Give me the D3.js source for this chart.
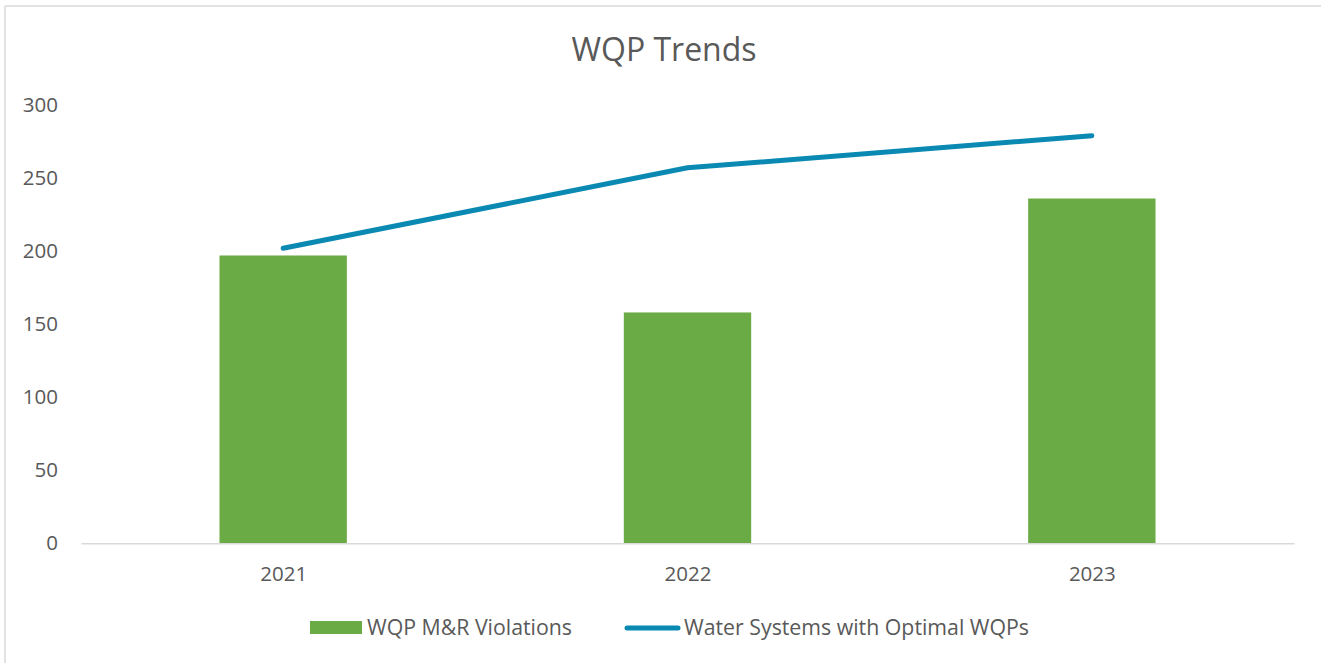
<!DOCTYPE html>
<html>
<head>
<meta charset="utf-8">
<script src="https://cdn.jsdelivr.net/npm/d3@7"></script>
<style>
  html, body { margin: 0; padding: 0; background: #fff; }
  svg { display: block; }
  text { font-family: "Open Sans", Lato, sans-serif; fill: #595959; }
</style>
</head>
<body>
<svg id="chart" width="1321" height="663"></svg>
<script>
const categories = ["2021", "2022", "2023"];
const violations = [197, 158, 236];
const optimalSystems = [202, 257, 279];
const yTicks = [0, 50, 100, 150, 200, 250, 300];
const seriesNames = ["WQP M&R Violations", "Water Systems with Optimal WQPs"];

const FONT = "'Open Sans', Lato, sans-serif";
const svg = d3.select("#chart");
const W = 1321, H = 663;
const margin = { left: 81, right: 27, top: 105, bottom: 120 };
const plotRight = W - margin.right;
const plotBottom = 543.3;

// frame (top and left edges visible)
svg.append("line").attr("x1", 5).attr("x2", W).attr("y1", 6).attr("y2", 6)
  .attr("stroke", "#d9d9d9").attr("stroke-width", 1.5);
svg.append("line").attr("x1", 5).attr("x2", 5).attr("y1", 6).attr("y2", H)
  .attr("stroke", "#d9d9d9").attr("stroke-width", 1.5);

const x = d3.scaleBand().domain(categories)
  .range([margin.left, plotRight])
  .paddingInner(0.685).paddingOuter(0.3425);
const xc = d3.scalePoint().domain(categories)
  .range([margin.left, plotRight]).padding(0.5);
const y = d3.scaleLinear().domain([0, 300]).range([plotBottom, margin.top]);

// title
svg.append("text").attr("x", 664).attr("y", 61).attr("text-anchor", "middle")
  .style("font-size", "32px").text("WQP Trends");

// y axis labels
const yAxis = d3.axisLeft(y).tickValues(yTicks).tickSize(0).tickPadding(0);
const gy = svg.append("g").attr("transform", "translate(58,0)").call(yAxis);
gy.select(".domain").remove();
gy.selectAll("text").style("font-size", "20.5px").attr("fill", "#595959")
  .style("font-family", FONT);

// bars
svg.append("g").selectAll("rect").data(categories).join("rect")
  .attr("x", d => x(d))
  .attr("width", x.bandwidth())
  .attr("y", (d, i) => y(violations[i]))
  .attr("height", (d, i) => plotBottom - y(violations[i]))
  .attr("fill", "#6aab45");

// x axis
const xAxis = d3.axisBottom(xc).tickSize(0).tickPadding(0);
const gx = svg.append("g").attr("transform", `translate(0,${plotBottom})`).call(xAxis);
gx.select(".domain").attr("stroke", "#d9d9d9").attr("stroke-width", 1.5);
gx.selectAll("text").attr("dy", 0).attr("y", 38).style("font-size", "20.5px")
  .attr("fill", "#595959").style("font-family", FONT);

// line
const line = d3.line().x((d, i) => xc(categories[i])).y(d => y(d));
svg.append("path").datum(optimalSystems)
  .attr("d", line).attr("fill", "none")
  .attr("stroke", "#0a89b3").attr("stroke-width", 5)
  .attr("stroke-linecap", "round").attr("stroke-linejoin", "round");

// legend
const lg = svg.append("g");
lg.append("rect").attr("x", 310).attr("y", 621).attr("width", 52).attr("height", 13).attr("fill", "#6aab45");
lg.append("text").attr("x", 367).attr("y", 635).style("font-size", "21.3px").text(seriesNames[0]);
lg.append("line").attr("x1", 627).attr("x2", 678).attr("y1", 628).attr("y2", 628)
  .attr("stroke", "#0a89b3").attr("stroke-width", 5).attr("stroke-linecap", "round");
lg.append("text").attr("x", 684).attr("y", 635).style("font-size", "21.3px").text(seriesNames[1]);
</script>
</body>
</html>
